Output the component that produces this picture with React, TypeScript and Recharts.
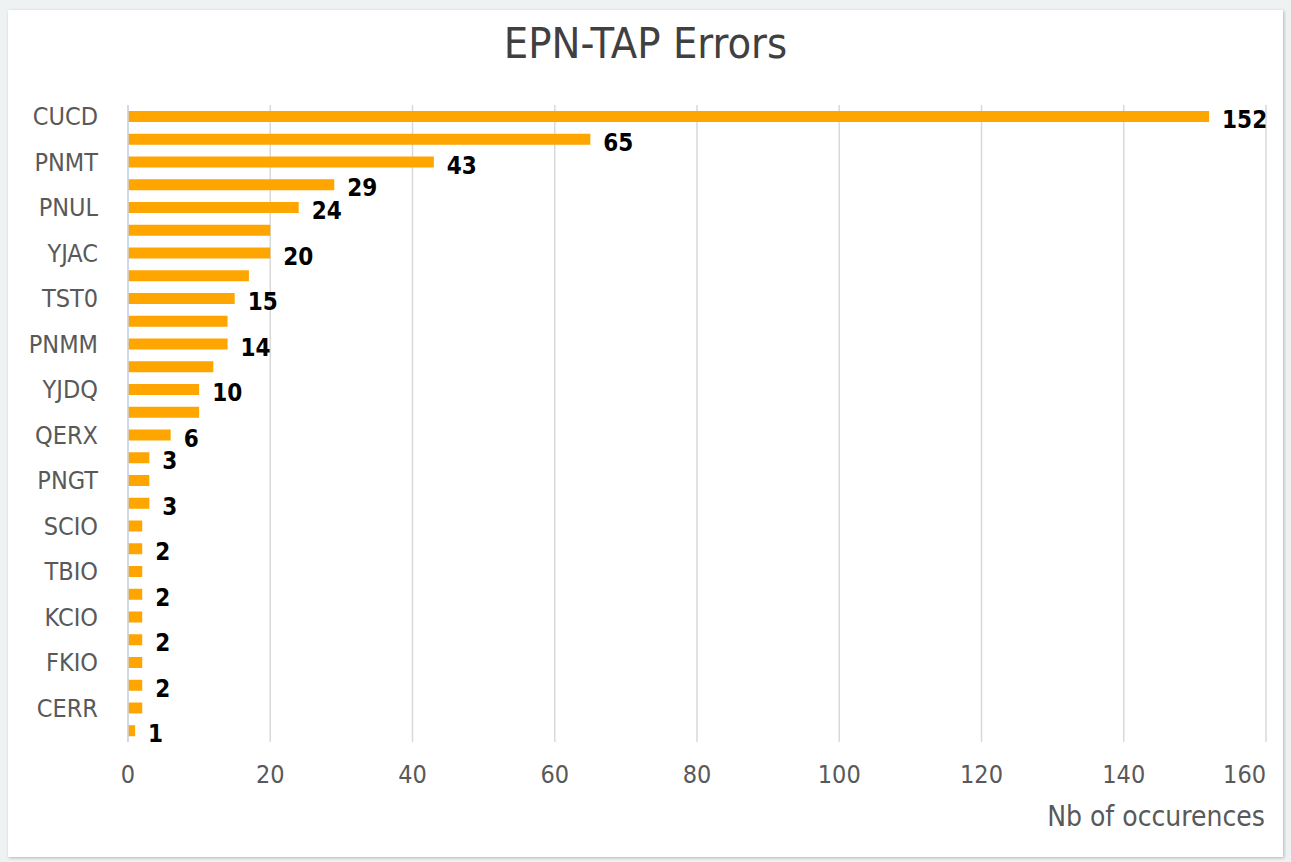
import { Bar, BarChart, CartesianGrid, Label, LabelList, XAxis, YAxis } from 'recharts'

// Error codes, top to bottom (every other one is printed on the axis).
const categories = [
  'CUCD', 'c02', 'PNMT', 'c04', 'PNUL', 'c06', 'YJAC', 'c08', 'TST0', 'c10',
  'PNMM', 'c12', 'YJDQ', 'c14', 'QERX', 'c16', 'PNGT', 'c18', 'SCIO', 'c20',
  'TBIO', 'c22', 'KCIO', 'c24', 'FKIO', 'c26', 'CERR', 'c28',
]

// Number of occurences for each code.
const occurences = [
  152, 65, 43, 29, 24, 20, 20, 17, 15, 14,
  14, 12, 10, 10, 6, 3, 3, 3, 2, 2,
  2, 2, 2, 2, 2, 2, 2, 1,
]

// Data labels that are printed next to the bars ('' = not printed).
const valueLabels = [
  '152', '65', '43', '29', '24', '', '20', '', '15', '',
  '14', '', '10', '', '6', '3', '', '3', '', '2',
  '', '2', '', '2', '', '2', '', '1',
]

const xTicks = [0, 20, 40, 60, 80, 100, 120, 140, 160]

const FONT = '"DejaVu Sans Condensed", "DejaVu Sans", sans-serif'

const data = categories.map((name, i) => ({
  name,
  value: occurences[i],
  label: valueLabels[i],
}))

// X tick: the last label is pulled inside the chart, like the original.
function XTick(props: any) {
  const { x, y, payload, index } = props
  const last = index === xTicks.length - 1
  return (
    <text
      x={x}
      y={y}
      dy={17}
      textAnchor={last ? 'end' : 'middle'}
      fontSize={25}
      fill="#595959"
      fontFamily={FONT}
    >
      {payload.value}
    </text>
  )
}

export default function App() {
  return (
    <div
      style={{
        position: 'absolute',
        left: 0,
        top: 0,
        width: 1291,
        height: 862,
        background: '#eef2f2',
        fontFamily: FONT,
      }}
    >
      <div
        style={{
          position: 'absolute',
          left: 8,
          top: 10,
          width: 1275,
          height: 847,
          background: '#fff',
          boxShadow: '1px 1px 3px rgba(0,0,0,0.25)',
        }}
      />
      <div
        style={{
          position: 'absolute',
          left: 0,
          top: 19,
          width: 1291,
          textAlign: 'center',
          fontSize: 43,
          color: '#404040',
          lineHeight: '48px',
        }}
      >
        EPN-TAP Errors
      </div>
      <div style={{ position: 'absolute', left: 0, top: 0 }}>
        <BarChart
          width={1291}
          height={862}
          data={data}
          layout="vertical"
          margin={{ top: 105, right: 25, bottom: 30, left: 0 }}
        >
          <CartesianGrid horizontal={false} stroke="#d9d9d9" strokeWidth={1.5} />
          <XAxis
            type="number"
            domain={[0, 160]}
            ticks={xTicks}
            height={90}
            axisLine={false}
            tickLine={false}
            tickMargin={18}
            tick={<XTick />}
          >
            <Label
              value="Nb of occurences"
              position="insideBottomRight"
              offset={6}
              dx={5}
              style={{ fontSize: 28, fill: '#595959', fontFamily: FONT }}
            />
          </XAxis>
          <YAxis
            type="category"
            dataKey="name"
            width={128}
            interval={1}
            axisLine={{ stroke: '#c9d6ea', strokeWidth: 1.5 }}
            tickLine={false}
            tickMargin={24}
            tick={{ fontSize: 25, fill: '#595959', fontFamily: FONT }}
          />
          <Bar dataKey="value" fill="#ffa500" barSize={11} isAnimationActive={false}>
            <LabelList
              dataKey="label"
              position="right"
              offset={13}
              dy={3}
              style={{ fontSize: 24, fontWeight: 700, fill: '#000', fontFamily: FONT }}
            />
          </Bar>
        </BarChart>
      </div>
    </div>
  )
}
